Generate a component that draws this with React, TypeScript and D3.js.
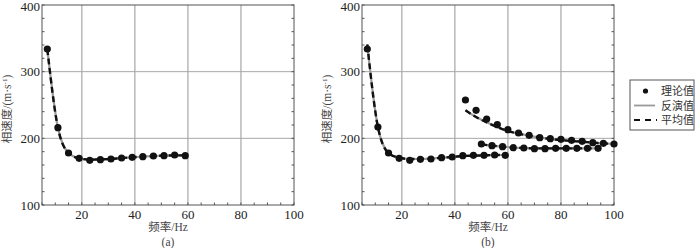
import React from "react";
import * as d3 from "d3";

// ---- Data ----
// Panel (a): fundamental mode
const aFreq = [7, 11, 15, 19, 23, 27, 31, 35, 39, 43, 47, 51, 55, 59];
const aTheory = [334, 216, 178, 170, 167, 168, 169, 170.5, 171.5, 172.5, 173.5, 174, 175, 174];
const aInverted = [334, 216, 178, 170, 168, 168.5, 169, 170.5, 171.5, 172.5, 173.5, 174, 174.5, 174.5];
const aMean = [334, 216, 178, 170, 168, 168.5, 169, 170.5, 171.5, 172.5, 173.5, 174, 174.5, 174.5];

// Panel (b): three modes
const bFreq1 = [7, 11, 15, 19, 23, 27, 31, 35, 39, 43, 47, 51, 55, 59];
const bTheory1 = [334, 217, 178, 170, 167, 168.5, 169, 171, 172, 174, 174.5, 174.5, 175, 174.5];
const bInverted1 = [340, 217, 178, 171, 169, 169, 169.5, 171, 172, 173.5, 174, 174.5, 175, 175];
const bMean1 = [341, 217, 178, 171, 169, 169, 169.5, 171, 172, 173.5, 174, 174.5, 175, 175];

const bFreq2 = [44, 48, 52, 56, 60, 64, 68, 72, 76, 80, 84, 88, 92, 96, 100];
const bTheory2 = [257.5, 242, 229, 220.5, 213, 208, 204.5, 201, 199.5, 198.5, 197, 195.5, 193.5, 192.5, 191.5];
const bInverted2 = [242, 232, 224, 217, 211, 207, 204, 201, 199, 197.5, 196, 195, 193.5, 192.5, 191.5];
const bMean2 = [242, 232, 224, 217, 211, 207, 204, 201, 199, 197.5, 196, 195, 193.5, 192.5, 191.5];

const bFreq3 = [50, 54, 58, 62, 66, 70, 74, 78, 82, 86, 90, 94];
const bTheory3 = [191.5, 189, 187.5, 186, 185.5, 184.5, 184.5, 185, 185, 185, 185, 185];
const bInverted3 = [191, 189, 187.5, 186, 185.5, 185, 185, 185, 185, 185, 185, 185];
const bMean3 = [191, 189, 187.5, 186, 185.5, 185, 185, 185, 185, 185, 185, 185];

const xTicks = [20, 40, 60, 80, 100];
const yTicks = [100, 200, 300, 400];
const xLabel = "频率/Hz";
const panelLabels = ["(a)", "(b)"];
const legendLabels = ["理论值", "反演值", "平均值"];

type Series = { f: number[]; theory: number[]; inv: number[]; mean: number[] };

const panels: { left: number; series: Series[] }[] = [
  { left: 42, series: [{ f: aFreq, theory: aTheory, inv: aInverted, mean: aMean }] },
  {
    left: 362,
    series: [
      { f: bFreq1, theory: bTheory1, inv: bInverted1, mean: bMean1 },
      { f: bFreq2, theory: bTheory2, inv: bInverted2, mean: bMean2 },
      { f: bFreq3, theory: bTheory3, inv: bInverted3, mean: bMean3 },
    ],
  },
];

const W = 252;
const TOP = 5;
const BOTTOM = 205;
const serif = "'Liberation Serif', 'DejaVu Serif', 'Noto Sans CJK SC', serif";

function Panel({ left, series, label }: { left: number; series: Series[]; label: string }) {
  const x = d3.scaleLinear().domain([5, 100]).range([left, left + W]);
  const y = d3.scaleLinear().domain([100, 400]).range([BOTTOM, TOP]);
  const line = (f: number[], v: number[]) =>
    d3.line<number>().x((_, i) => x(f[i])).y((d) => y(d)).curve(d3.curveMonotoneX)(v) || "";
  const xMinor = d3.range(5, 101, 5);
  const yMinor = d3.range(100, 401, 20);
  const cx = left + W / 2;
  return (
    <g>
      {/* grid */}
      {xTicks.filter((t) => t < 100).map((t) => (
        <line key={"gx" + t} x1={x(t)} x2={x(t)} y1={TOP} y2={BOTTOM} stroke="#bdbdbd" strokeWidth={1.6} />
      ))}
      {yTicks.filter((t) => t > 100 && t < 400).map((t) => (
        <line key={"gy" + t} x1={left} x2={left + W} y1={y(t)} y2={y(t)} stroke="#a8a8a8" strokeWidth={1} />
      ))}
      {/* frame */}
      <rect x={left} y={TOP} width={W} height={BOTTOM - TOP} fill="none" stroke="#555" strokeWidth={1} />
      {/* minor ticks */}
      {xMinor.map((t) => (
        <line key={"tx" + t} x1={x(t)} x2={x(t)} y1={BOTTOM} y2={BOTTOM - 2.5} stroke="#555" strokeWidth={1} />
      ))}
      {yMinor.map((t) => (
        <g key={"ty" + t}>
          <line x1={left} x2={left + 2.5} y1={y(t)} y2={y(t)} stroke="#555" strokeWidth={1} />
          <line x1={left + W} x2={left + W - 2.5} y1={y(t)} y2={y(t)} stroke="#555" strokeWidth={1} />
        </g>
      ))}
      {/* tick labels */}
      {xTicks.map((t) => (
        <text key={"lx" + t} x={x(t)} y={219} textAnchor="middle" fontSize={13} fontFamily={serif} fill="#222">
          {t}
        </text>
      ))}
      {yTicks.map((t) => (
        <text
          key={"ly" + t}
          x={left - 2}
          y={y(t) + (t === 400 ? 5.5 : 4.5)}
          textAnchor="end"
          fontSize={13}
          fontFamily={serif}
          fill="#222"
        >
          {t}
        </text>
      ))}
      {/* axis titles */}
      <text x={cx} y={231} textAnchor="middle" fontSize={11.5} fontFamily={serif} fill="#444">
        {xLabel}
      </text>
      <text x={cx} y={246} textAnchor="middle" fontSize={11.5} fontFamily={serif} fill="#444">
        {label}
      </text>
      <text
        transform={`translate(${left - 31},${(TOP + BOTTOM) / 2 + 4}) rotate(-90)`}
        textAnchor="middle"
        fontSize={11.5}
        fontFamily={serif}
        fill="#444"
      >
        相速度/(m·s
        <tspan dy={-4} fontSize={7}>-1</tspan>
        <tspan dy={4}>)</tspan>
      </text>
      {/* series */}
      {series.map((s, k) => (
        <g key={"s" + k}>
          <path d={line(s.f, s.inv)} fill="none" stroke="#9a9a9a" strokeWidth={2.2} />
          <path d={line(s.f, s.mean)} fill="none" stroke="#111" strokeWidth={2.4} strokeDasharray="6,3.5" />
          {s.f.map((f, i) => (
            <circle key={i} cx={x(f)} cy={y(s.theory[i])} r={3.6} fill="#111" />
          ))}
        </g>
      ))}
    </g>
  );
}

function Legend() {
  const bx = 630, by = 80, bw = 64, bh = 50;
  const rows = [91, 105.5, 120];
  return (
    <g>
      <rect x={bx} y={by} width={bw} height={bh} fill="#fff" stroke="#555" strokeWidth={1} />
      <circle cx={645.5} cy={rows[0]} r={2.6} fill="#111" />
      <line x1={634} x2={655} y1={rows[1]} y2={rows[1]} stroke="#9a9a9a" strokeWidth={1.8} />
      <line x1={634} x2={657} y1={rows[2]} y2={rows[2]} stroke="#111" strokeWidth={2} strokeDasharray="6,5" />
      {legendLabels.map((l, i) => (
        <text key={l} x={661} y={rows[i] + 4} fontSize={11} fontFamily={serif} fill="#333">
          {l}
        </text>
      ))}
    </g>
  );
}

export default function App() {
  return (
    <svg width={700} height={248} style={{ position: "absolute", left: 0, top: 0, background: "#fff" }}>
      {panels.map((p, i) => (
        <Panel key={i} left={p.left} series={p.series} label={panelLabels[i]} />
      ))}
      <Legend />
    </svg>
  );
}
